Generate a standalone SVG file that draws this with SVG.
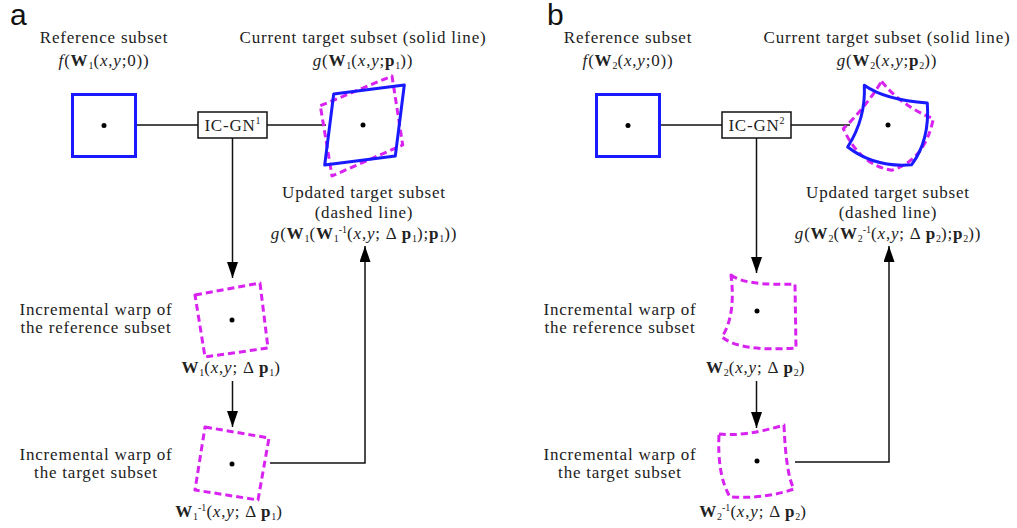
<svg xmlns="http://www.w3.org/2000/svg" width="1017" height="528" viewBox="0 0 1017 528">
<style>
.t{font-family:"Liberation Serif","Times New Roman",serif;font-size:17px;fill:#222;letter-spacing:0.8px;text-anchor:middle}
.s{font-size:10px;letter-spacing:0}
.i{font-style:italic}
.b{font-weight:bold}
.lab{font-family:"Liberation Sans",Arial,sans-serif;font-size:30px;fill:#111}
.ref{fill:none;stroke:#1a1aff;stroke-width:3}
.cur{fill:none;stroke:#1a1aff;stroke-width:3;stroke-linejoin:round}
.dash{fill:none;stroke:#d822f0;stroke-width:3;stroke-dasharray:7 4;stroke-linejoin:round}
.box{fill:#fff;stroke:#111;stroke-width:1.5}
.c{fill:none;stroke:#111;stroke-width:1.5}
.dot{fill:#000}
</style>
<defs>
<marker id="ah" viewBox="0 0 16 11" refX="16" refY="5.5" markerWidth="16" markerHeight="11" markerUnits="userSpaceOnUse" orient="auto">
<path d="M0,0 L16,5.5 L0,11 z" fill="#000"/>
</marker>
</defs>

<text class="lab" x="10" y="25">a</text>
<text class="lab" x="547" y="25">b</text>

<g id="connectors">
<line class="c" x1="137" y1="125" x2="198" y2="125"/>
<line class="c" x1="267" y1="125" x2="326" y2="125"/>
<line class="c" x1="232.5" y1="138" x2="232.5" y2="278" marker-end="url(#ah)"/>
<line class="c" x1="232.5" y1="381" x2="232.5" y2="427" marker-end="url(#ah)"/>
<polyline class="c" points="270,463 365,463 365,246" marker-end="url(#ah)"/>
<line class="c" x1="661" y1="125" x2="722" y2="125"/>
<line class="c" x1="791" y1="125" x2="850" y2="125"/>
<line class="c" x1="756.5" y1="138" x2="756.5" y2="273" marker-end="url(#ah)"/>
<line class="c" x1="756.5" y1="381" x2="756.5" y2="428" marker-end="url(#ah)"/>
<polyline class="c" points="795,462 889,462 889,246" marker-end="url(#ah)"/>
</g>

<!-- Panel a -->
<g id="a-ref">
<text class="t" x="104" y="43">Reference subset</text>
<text class="t" x="104" y="66"><tspan class="i">f</tspan>(<tspan class="b">W</tspan><tspan class="s" dy="3">1</tspan><tspan dy="-3">(</tspan><tspan class="i">x</tspan>,<tspan class="i">y</tspan>;0))</text>
<rect class="ref" x="72.5" y="94.5" width="63" height="62"/>
<circle class="dot" cx="104" cy="125.5" r="2.5"/>
</g>
<g id="a-icgn">
<rect class="box" x="198" y="112" width="69" height="26"/>
<text class="t" x="232.5" y="131">IC-GN<tspan class="s" dy="-7">1</tspan></text>
</g>
<g id="a-target">
<text class="t" x="363" y="43">Current target subset (solid line)</text>
<text class="t" x="363" y="66"><tspan class="i">g</tspan>(<tspan class="b">W</tspan><tspan class="s" dy="3">1</tspan><tspan dy="-3">(</tspan><tspan class="i">x</tspan>,<tspan class="i">y</tspan>;<tspan class="b">p</tspan><tspan class="s" dy="3">1</tspan><tspan dy="-3">))</tspan></text>
<polygon class="dash" points="320.3,105.7 392,76 402.7,145 332,176"/>
<polygon class="cur" points="333.7,94 404.3,85 395.3,156 324.7,165"/>
<circle class="dot" cx="363" cy="125" r="2.5"/>
</g>
<g id="a-updated">
<text class="t" x="364" y="198">Updated target subset</text>
<text class="t" x="364" y="218">(dashed line)</text>
<text class="t" x="364" y="239"><tspan class="i">g</tspan>(<tspan class="b">W</tspan><tspan class="s" dy="3">1</tspan><tspan dy="-3">(</tspan><tspan class="b">W</tspan><tspan class="s" dy="3">1</tspan><tspan class="s" dy="-9">-1</tspan><tspan dy="6">(</tspan><tspan class="i">x</tspan>,<tspan class="i">y</tspan>; Δ <tspan class="b">p</tspan><tspan class="s" dy="3">1</tspan><tspan dy="-3">);</tspan><tspan class="b">p</tspan><tspan class="s" dy="3">1</tspan><tspan dy="-3">))</tspan></text>
</g>
<g id="a-incref">
<text class="t" x="96" y="315">Incremental warp of</text>
<text class="t" x="96" y="333">the reference subset</text>
<polygon class="dash" points="195,295 260,283 268,348 205,357"/>
<circle class="dot" cx="232" cy="320" r="2.5"/>
<text class="t" x="231" y="373"><tspan class="b">W</tspan><tspan class="s" dy="3">1</tspan><tspan dy="-3">(</tspan><tspan class="i">x</tspan>,<tspan class="i">y</tspan>; Δ <tspan class="b">p</tspan><tspan class="s" dy="3">1</tspan><tspan dy="-3">)</tspan></text>
</g>
<g id="a-inctgt">
<text class="t" x="96" y="460">Incremental warp of</text>
<text class="t" x="96" y="478">the target subset</text>
<polygon class="dash" points="205,427 269,438 258,500 195,490"/>
<circle class="dot" cx="232" cy="464" r="2.5"/>
<text class="t" x="229" y="517"><tspan class="b">W</tspan><tspan class="s" dy="3">1</tspan><tspan class="s" dy="-9">-1</tspan><tspan dy="6">(</tspan><tspan class="i">x</tspan>,<tspan class="i">y</tspan>; Δ <tspan class="b">p</tspan><tspan class="s" dy="3">1</tspan><tspan dy="-3">)</tspan></text>
</g>

<!-- Panel b -->
<g id="b-ref">
<text class="t" x="628" y="43">Reference subset</text>
<text class="t" x="628" y="66"><tspan class="i">f</tspan>(<tspan class="b">W</tspan><tspan class="s" dy="3">2</tspan><tspan dy="-3">(</tspan><tspan class="i">x</tspan>,<tspan class="i">y</tspan>;0))</text>
<rect class="ref" x="596.5" y="94.5" width="63" height="62"/>
<circle class="dot" cx="628" cy="125.5" r="2.5"/>
</g>
<g id="b-icgn">
<rect class="box" x="722" y="112" width="69" height="26"/>
<text class="t" x="756.5" y="131">IC-GN<tspan class="s" dy="-7">2</tspan></text>
</g>
<g id="b-target">
<text class="t" x="887" y="43">Current target subset (solid line)</text>
<text class="t" x="887" y="66"><tspan class="i">g</tspan>(<tspan class="b">W</tspan><tspan class="s" dy="3">2</tspan><tspan dy="-3">(</tspan><tspan class="i">x</tspan>,<tspan class="i">y</tspan>;<tspan class="b">p</tspan><tspan class="s" dy="3">2</tspan><tspan dy="-3">))</tspan></text>
<path class="dash" d="M881.7,81.3 Q900,105 933.3,118.7 Q925,160 891.7,170.3 Q860,165 843.3,128.7 Q865,108 881.7,81.3 Z"/>
<path class="cur" d="M864.3,85.3 Q885,100 927.3,103 Q930,140 911.7,164.7 Q875,168 847.7,147 Q866,118 864.3,85.3 Z"/>
<circle class="dot" cx="888" cy="125" r="2.5"/>
</g>
<g id="b-updated">
<text class="t" x="888" y="198">Updated target subset</text>
<text class="t" x="888" y="218">(dashed line)</text>
<text class="t" x="888" y="239"><tspan class="i">g</tspan>(<tspan class="b">W</tspan><tspan class="s" dy="3">2</tspan><tspan dy="-3">(</tspan><tspan class="b">W</tspan><tspan class="s" dy="3">2</tspan><tspan class="s" dy="-9">-1</tspan><tspan dy="6">(</tspan><tspan class="i">x</tspan>,<tspan class="i">y</tspan>; Δ <tspan class="b">p</tspan><tspan class="s" dy="3">2</tspan><tspan dy="-3">);</tspan><tspan class="b">p</tspan><tspan class="s" dy="3">2</tspan><tspan dy="-3">))</tspan></text>
</g>
<g id="b-incref">
<text class="t" x="620" y="315">Incremental warp of</text>
<text class="t" x="620" y="333">the reference subset</text>
<path class="dash" d="M731,275 Q745,286 795,284 L796,348 Q740,352 722,337 Q736,315 731,275 Z"/>
<circle class="dot" cx="757" cy="311" r="2.5"/>
<text class="t" x="755.5" y="373"><tspan class="b">W</tspan><tspan class="s" dy="3">2</tspan><tspan dy="-3">(</tspan><tspan class="i">x</tspan>,<tspan class="i">y</tspan>; Δ <tspan class="b">p</tspan><tspan class="s" dy="3">2</tspan><tspan dy="-3">)</tspan></text>
</g>
<g id="b-inctgt">
<text class="t" x="620" y="460">Incremental warp of</text>
<text class="t" x="620" y="478">the target subset</text>
<path class="dash" d="M719,434 Q745,437 784,425 Q786,475 794,489 Q765,499 730,497 Q717,475 719,434 Z"/>
<circle class="dot" cx="757" cy="461" r="2.5"/>
<text class="t" x="753" y="517"><tspan class="b">W</tspan><tspan class="s" dy="3">2</tspan><tspan class="s" dy="-9">-1</tspan><tspan dy="6">(</tspan><tspan class="i">x</tspan>,<tspan class="i">y</tspan>; Δ <tspan class="b">p</tspan><tspan class="s" dy="3">2</tspan><tspan dy="-3">)</tspan></text>
</g>
</svg>
